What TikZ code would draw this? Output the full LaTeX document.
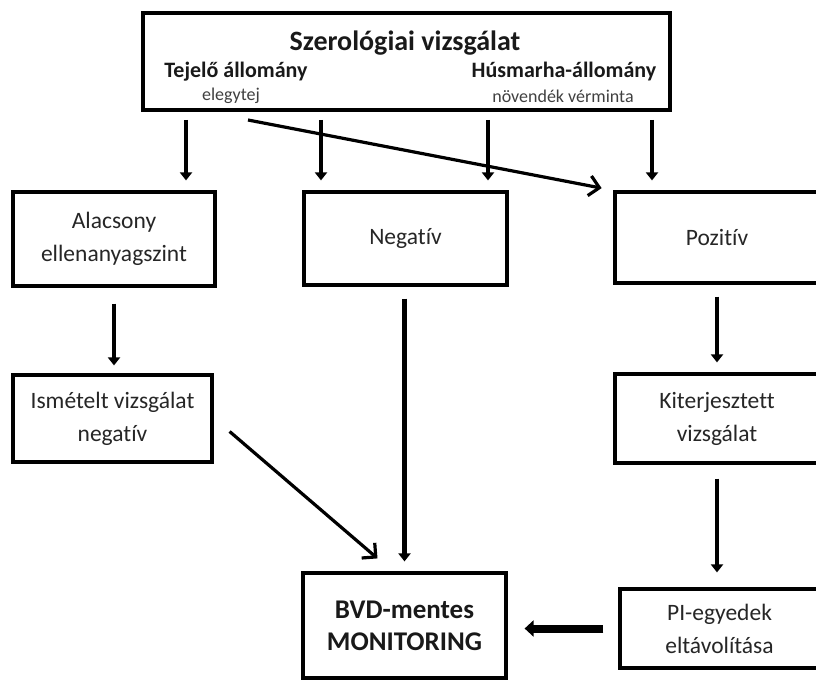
\documentclass[tikz,border=0pt]{standalone}
\usepackage{fontspec}
\setmainfont{Carlito}[Ligatures=NoCommon]
\usepackage{tikz}
\usetikzlibrary{arrows.meta}
\tikzset{
    box/.style={draw, rectangle, line width=3.2pt, inner sep=0pt, align=center, text=black!85, font=\fontsize{23.5}{33}\selectfont},
    headtext/.style={text=black!90, font=\bfseries\fontsize{22}{24}\selectfont},
    subtext/.style={text=black!75, font=\fontsize{18}{20}\selectfont},
    varrow/.style={line width=4.6pt, -{Triangle[length=8pt, width=12pt]}, shorten <=12pt, shorten >=10pt},
    darrow/.style={line width=3.2pt, -{Straight Barb[length=10pt, width=20pt, line width=3.2pt]}},
    harrow/.style={line width=8pt, -{Triangle[length=9pt, width=16pt]}}
}

\begin{document}
\begin{tikzpicture}[x=1pt, y=-1pt]
    \useasboundingbox (0,0) rectangle (816,682);
    \clip (0,0) rectangle (816,682);

    % serological test
    \node[box, minimum width=527pt, minimum height=97pt] (top) at (406.5, 61.5) {};
    \node[text=black!90, font=\bfseries\fontsize{28}{30}\selectfont] (title) at (405, 43) {Szerológiai vizsgálat};
    \node[headtext] (dairy) at (236, 72) {Tejelő állomány};
    \node[subtext] (dairysub) at (231, 96) {elegytej};
    \node[headtext] (beef) at (564, 72) {Húsmarha-állomány};
    \node[subtext] (beefsub) at (563, 96) {növendék vérminta};

    % results
    \node[box, minimum width=202pt, minimum height=94pt] (alac) at (114, 239) {Alacsony\\ellenanyagszint};
    \node[box, minimum width=203pt, minimum height=93pt] (neg) at (405.5, 238.5) {Negatív};
    \node[box, minimum width=204pt, minimum height=91pt] (poz) at (717, 237.5) {Pozitív};

    % follow-up
    \node[box, minimum width=199pt, minimum height=87pt] (ism) at (112.5, 418.5) {Ismételt vizsgálat\\negatív};
    \node[box, minimum width=204pt, minimum height=89pt] (kit) at (717, 418.5) {Kiterjesztett\\vizsgálat};
    \node[box, minimum width=199pt, minimum height=79pt] (pi) at (719.5, 628.5) {PI-egyedek\\eltávolítása};
    \node[box, minimum width=203pt, minimum height=105pt, text=black!90,
          font=\bfseries\fontsize{27}{32}\selectfont] (bvd) at (404.5, 625.5) {BVD-mentes\\MONITORING};

    % Edges
    \foreach \x/\b [count=\i] in {186/alac, 321/neg, 488/neg, 652/poz} {
        \coordinate (t\i) at (\x, 110);
        \draw[varrow, shorten <=10pt] (t\i) -- (t\i |- \b.north);
    }
    \coordinate (dstart) at (248, 120);
    \draw[darrow, shorten >=12pt] (dstart) -- (poz.north west);

    \draw[varrow, shorten <=16pt, shorten >=8pt] (alac.south) -- (alac.south |- ism.north);
    \draw[varrow] (bvd.north |- neg.south) -- (bvd.north);
    \draw[varrow] (poz.south -| kit.north) -- (kit.north);
    \draw[varrow, shorten <=14pt, shorten >=15pt] (kit.south) -- (kit.south |- pi.north);
    \draw[darrow] ([shift={(16,13)}]ism.east) -- ([shift={(-27,-13)}]bvd.north);
    \draw[harrow, shorten <=15pt, shorten >=17pt] (pi.west) -- (pi.west -| bvd.east);
\end{tikzpicture}
\end{document}
